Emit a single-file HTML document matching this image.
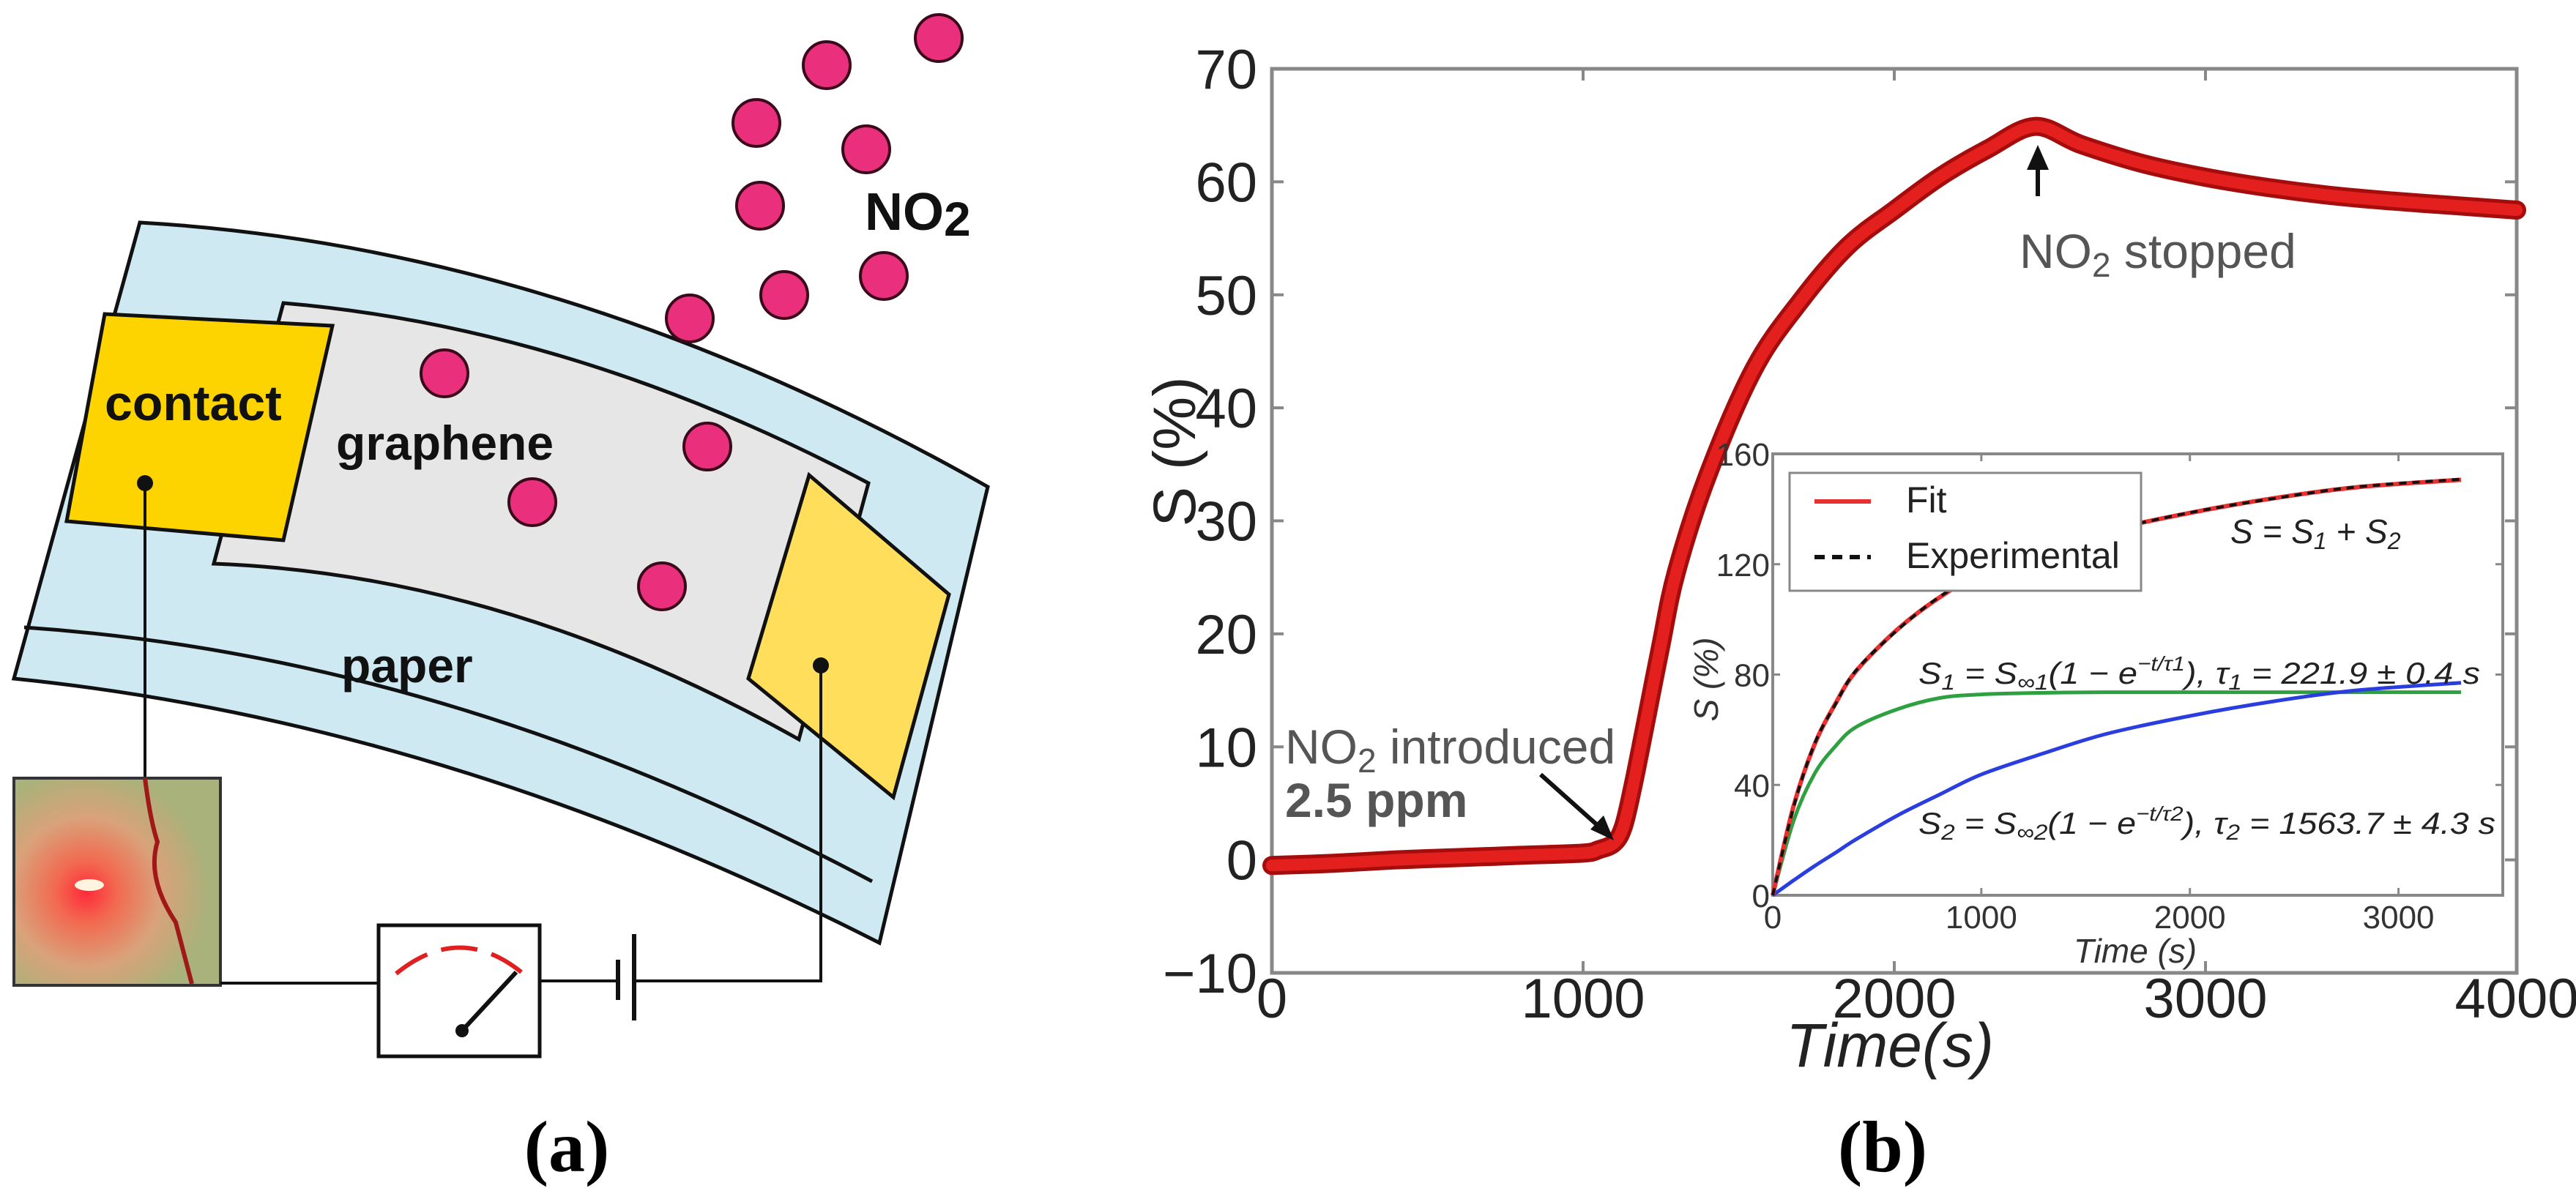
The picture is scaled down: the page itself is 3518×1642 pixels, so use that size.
<!DOCTYPE html>
<html><head><meta charset="utf-8"><style>
html,body{margin:0;padding:0;background:#fff}
svg{display:block}
text{font-family:"Liberation Sans",sans-serif}
</style></head><body>
<svg id="fig" width="3518" height="1642" viewBox="0 0 3518 1642" xmlns="http://www.w3.org/2000/svg">
<defs>
<radialGradient id="glow" cx="0.35" cy="0.55" r="0.6">
<stop offset="0" stop-color="#ff2a3a"/><stop offset="0.25" stop-color="#f26a50"/><stop offset="0.6" stop-color="#d9a27a"/><stop offset="1" stop-color="#a8b27a"/>
</radialGradient>
</defs>
<g>
<path d="M191,304 Q770,337 1349,665 L1201,1288 Q609,987 19,927 Z" fill="#cfe9f2" stroke="#111" stroke-width="5"/>
<path d="M33,857 Q612,896 1191,1204" fill="none" stroke="#111" stroke-width="5"/>
<path d="M387,414 Q786,448 1186,660 L1091,1010 Q691,785 292,770 Z" fill="#e6e6e6" stroke="#111" stroke-width="5"/>
<polygon points="143,429 454,445 387,738 91,712" fill="#fdd400" stroke="#111" stroke-width="5"/>
<polygon points="1105,649 1296,812 1220,1089 1022,927" fill="#fede5a" stroke="#111" stroke-width="5"/>
<text x="143" y="574" font-size="68" font-weight="bold" fill="#111">contact</text>
<text x="459" y="628" font-size="66" font-weight="bold" fill="#111">graphene</text>
<text x="466" y="932" font-size="66" font-weight="bold" fill="#111">paper</text>
<text x="1181" y="314" font-size="72" font-weight="bold" fill="#111">NO<tspan font-size="66" dy="8">2</tspan></text>
<g id="dots"></g>
<line x1="198" y1="660" x2="198" y2="1063" stroke="#111" stroke-width="4"/>
<circle cx="198" cy="660" r="11" fill="#111"/>
<circle cx="1121" cy="909" r="11" fill="#111"/>
<rect x="19" y="1063" width="282" height="283" fill="url(#glow)" stroke="#333" stroke-width="4"/>
<path d="M198,1063 Q205,1120 215,1150 Q200,1200 240,1260 L262,1344" fill="none" stroke="#a01818" stroke-width="6"/>
<ellipse cx="122" cy="1209" rx="20" ry="8" fill="#fff4e0"/>
<polyline points="301,1343 517,1343" fill="none" stroke="#111" stroke-width="4"/>
<rect x="517" y="1264" width="220" height="179" fill="#fff" stroke="#111" stroke-width="5"/>
<path d="M541,1330 Q627,1260 712,1328" fill="none" stroke="#e02020" stroke-width="6" stroke-dasharray="50,20"/>
<line x1="631" y1="1408" x2="705" y2="1328" stroke="#111" stroke-width="6"/>
<circle cx="631" cy="1408" r="9" fill="#111"/>
<line x1="737" y1="1340" x2="842" y2="1340" stroke="#111" stroke-width="4"/>
<line x1="844" y1="1311" x2="844" y2="1366" stroke="#111" stroke-width="6"/>
<line x1="866" y1="1276" x2="866" y2="1394" stroke="#111" stroke-width="6"/>
<polyline points="866,1340 1121,1340 1121,909" fill="none" stroke="#111" stroke-width="4"/>
</g>
<text x="774" y="1600" font-size="100" font-weight="bold" text-anchor="middle" style="font-family:'Liberation Serif',serif">(a)</text>
<g id="main"></g>
<text x="2571" y="1600" font-size="100" font-weight="bold" text-anchor="middle" style="font-family:'Liberation Serif',serif">(b)</text>
</svg>
<script>
const dotPos=[[1282,52],[1129,89],[1033,168],[1183,204],[1038,281],[1207,377],[1071,403],[942,435],[607,510],[966,610],[727,686],[904,801]];
const NS="http://www.w3.org/2000/svg";
function mk(tag,attrs,parent){const e=document.createElementNS(NS,tag);for(const k in attrs)e.setAttribute(k,attrs[k]);parent.appendChild(e);return e;}
const dg=document.getElementById('dots');
dotPos.forEach(p=>{const c=mk('circle',{cx:p[0],cy:p[1],r:32,fill:'#ea2f7c',stroke:'#3a0a1a','stroke-width':4},dg);

});

// ---- main chart data ----
const mainTime=[0,200,400,600,800,1000,1050,1100,1130,1160,1200,1250,1300,1400,1550,1700,1850,2000,2150,2300,2452,2600,2800,3000,3200,3400,3600,3800,4000];
const mainS=[-0.5,-0.3,0,0.2,0.4,0.6,0.9,1.5,3,6.5,12,19,25.5,34,43.5,49.5,54.3,57.5,60.5,62.9,64.9,63.3,61.6,60.4,59.5,58.8,58.3,57.9,57.5];
const mainXTicks=[0,1000,2000,3000,4000];
const mainYTicks=[-10,0,10,20,30,40,50,60,70];
// ---- inset data ----
const insetTime=[0,100,200,300,400,600,800,1000,1300,1600,2000,2400,2800,3300];
const insetFit=[0,32.4,54.6,69.4,81.3,96.5,108,116.6,124.9,132.1,138.6,143.9,147.9,150.6];
const insetExp=[0,32,54.8,69.2,81.5,96.3,108.2,116.5,125,132,138.7,143.8,148,150.8];
const insetS1=[0,27,44,54,61,67.5,71.5,72.8,73.4,73.6,73.6,73.6,73.6,73.6];
const insetS2=[0,5.4,10.6,15.4,20.3,29,36.5,43.8,51.5,58.5,65,70.3,74.3,77];
const insetXTicks=[0,1000,2000,3000];
const insetYTicks=[0,40,80,120,160];

const g=document.getElementById('main');
const L=1737,R=3437,T=94,B=1329;
const xm=t=>L+t/4000*(R-L);
const ym=v=>T+(70-v)/80*(B-T);
function path(xs,ys,fx,fy){
 const P=xs.map((x,i)=>[fx(x),fy(ys[i])]);
 let d='M'+P[0][0].toFixed(1)+','+P[0][1].toFixed(1);
 for(let i=0;i<P.length-1;i++){
  const p0=P[Math.max(0,i-1)],p1=P[i],p2=P[i+1],p3=P[Math.min(P.length-1,i+2)];
  const c1=[p1[0]+(p2[0]-p0[0])/6,p1[1]+(p2[1]-p0[1])/6];
  const c2=[p2[0]-(p3[0]-p1[0])/6,p2[1]-(p3[1]-p1[1])/6];
  d+=' C'+c1[0].toFixed(1)+','+c1[1].toFixed(1)+' '+c2[0].toFixed(1)+','+c2[1].toFixed(1)+' '+p2[0].toFixed(1)+','+p2[1].toFixed(1);
 }
 return d;
}

const frame=mk('rect',{x:L,y:T,width:R-L,height:B-T,fill:'none',stroke:'#888','stroke-width':5},g);


mainYTicks.forEach(v=>{
 const t=mk('text',{x:1717,y:ym(v)+27,'font-size':76,'text-anchor':'end',fill:'#222'},g);t.textContent=v<0?'\u2212'+Math.abs(v):String(v);
 
 
 [[L,L+16],[R,R-16]].forEach(a=>{const l=mk('line',{x1:a[0],x2:a[1],y1:ym(v),y2:ym(v),stroke:'#888','stroke-width':4},g);
 
 });
});
mainXTicks.forEach(v=>{
 const t=mk('text',{x:xm(v),y:1390,'font-size':76,'text-anchor':'middle',fill:'#222'},g);t.textContent=String(v);
 
 
 [[B,B-16],[T,T+16]].forEach(a=>{const l=mk('line',{x1:xm(v),x2:xm(v),y1:a[0],y2:a[1],stroke:'#888','stroke-width':4},g);
 
 });
});
const xl=mk('text',{x:2581,y:1457,'font-size':84,'text-anchor':'middle','font-style':'italic',fill:'#222'},g);xl.textContent='Time(s)';


const yl=mk('text',{x:0,y:0,'font-size':82,'text-anchor':'middle',fill:'#222',transform:'translate(1632,617) rotate(-90)'},g);yl.textContent='S (%)';



const d=path(mainTime,mainS,xm,ym);
const c1=mk('path',{d:d,fill:'none',stroke:'#a50d0d','stroke-width':26,'stroke-linejoin':'round','stroke-linecap':'round'},g);


const c2=mk('path',{d:d,fill:'none',stroke:'#e4201e','stroke-width':16,'stroke-linejoin':'round','stroke-linecap':'round'},g);



const a1=mk('text',{x:2758,y:366,'font-size':66,fill:'#555'},g);a1.innerHTML='NO<tspan font-size="46" dy="12">2</tspan><tspan dy="-12"> stopped</tspan>';


const ar1=mk('line',{x1:2783,y1:268,x2:2783,y2:215,stroke:'#111','stroke-width':6},g);


const ah1=mk('polygon',{points:'2783,198 2768,232 2798,232',fill:'#111'},g);


const a2=mk('text',{x:1755,y:1043,'font-size':66,fill:'#555'},g);a2.innerHTML='NO<tspan font-size="46" dy="12">2</tspan><tspan dy="-12"> introduced</tspan>';


const a3=mk('text',{x:1755,y:1116,'font-size':66,'font-weight':'bold',fill:'#555'},g);a3.textContent='2.5 ppm';


const ar2=mk('line',{x1:2104,y1:1058,x2:2188,y2:1133,stroke:'#111','stroke-width':6},g);


const ah2=mk('polygon',{points:'2204,1148 2172,1133 2190,1114',fill:'#111'},g);



const iL=2421,iR=3418,iT=620,iB=1223;
const xi=t=>iL+t/3500*(iR-iL);
const yi=v=>iB-v/160*(iB-iT);
const ibg=mk('rect',{x:iL,y:iT,width:iR-iL,height:iB-iT,fill:'#fff',stroke:'#888','stroke-width':4},g);


insetYTicks.forEach(v=>{
 const t=mk('text',{x:iL-4,y:yi(v)+16,'font-size':44,'text-anchor':'end',fill:'#333'},g);t.textContent=String(v);
 
 
 [[iL,iL+10],[iR,iR-10]].forEach(a=>{const l=mk('line',{x1:a[0],x2:a[1],y1:yi(v),y2:yi(v),stroke:'#888','stroke-width':3},g);
 
 });
});
insetXTicks.forEach(v=>{
 const t=mk('text',{x:xi(v),y:1268,'font-size':44,'text-anchor':'middle',fill:'#333'},g);t.textContent=String(v);
 
 
 [[iB,iB-10],[iT,iT+10]].forEach(a=>{const l=mk('line',{x1:xi(v),x2:xi(v),y1:a[0],y2:a[1],stroke:'#888','stroke-width':3},g);
 
 });
});
const ixl=mk('text',{x:2916,y:1315,'font-size':46,'text-anchor':'middle','font-style':'italic',fill:'#333'},g);ixl.textContent='Time (s)';


const iyl=mk('text',{x:0,y:0,'font-size':46,'text-anchor':'middle','font-style':'italic',fill:'#333',transform:'translate(2346,928) rotate(-90)'},g);iyl.textContent='S (%)';



const s1=mk('path',{d:path(insetTime,insetS1,xi,yi),fill:'none',stroke:'#2ea040','stroke-width':5},g);


const s2=mk('path',{d:path(insetTime,insetS2,xi,yi),fill:'none',stroke:'#2a3ee0','stroke-width':5},g);


const fit=mk('path',{d:path(insetTime,insetFit,xi,yi),fill:'none',stroke:'#e83030','stroke-width':6},g);


const ex=mk('path',{d:path(insetTime,insetExp,xi,yi),fill:'none',stroke:'#111','stroke-width':4,'stroke-dasharray':'10,8'},g);



const f1=mk('text',{x:3046,y:742,'font-size':46,'font-style':'italic',fill:'#222'},g);f1.innerHTML='S = S<tspan font-size="32" dy="8">1</tspan><tspan dy="-8"> + S</tspan><tspan font-size="32" dy="8">2</tspan>';


const f2=mk('text',{x:2620,y:934,'font-size':42,'font-style':'italic',fill:'#222',textLength:767,lengthAdjust:'spacingAndGlyphs'},g);f2.innerHTML='S<tspan font-size="30" dy="8">1</tspan><tspan dy="-8"> = S</tspan><tspan font-size="30" dy="8">\u221E1</tspan><tspan dy="-8">(1 \u2212 e</tspan><tspan font-size="28" dy="-18">\u2212t/\u03C41</tspan><tspan dy="18">), \u03C4</tspan><tspan font-size="30" dy="8">1</tspan><tspan dy="-8"> = 221.9 \u00B1 0.4 s</tspan>';


const f3=mk('text',{x:2620,y:1139,'font-size':42,'font-style':'italic',fill:'#222',textLength:788,lengthAdjust:'spacingAndGlyphs'},g);f3.innerHTML='S<tspan font-size="30" dy="8">2</tspan><tspan dy="-8"> = S</tspan><tspan font-size="30" dy="8">\u221E2</tspan><tspan dy="-8">(1 \u2212 e</tspan><tspan font-size="28" dy="-18">\u2212t/\u03C42</tspan><tspan dy="18">), \u03C4</tspan><tspan font-size="30" dy="8">2</tspan><tspan dy="-8"> = 1563.7 \u00B1 4.3 s</tspan>';



const lg=mk('rect',{x:2444,y:646,width:480,height:161,fill:'#fff',stroke:'#888','stroke-width':3},g);


const ll1=mk('line',{x1:2478,x2:2555,y1:685,y2:685,stroke:'#e83030','stroke-width':6},g);


const lt1=mk('text',{x:2603,y:700,'font-size':50,fill:'#222'},g);lt1.textContent='Fit';


const ll2=mk('line',{x1:2478,x2:2555,y1:761,y2:761,stroke:'#111','stroke-width':6,'stroke-dasharray':'14,10'},g);


const lt2=mk('text',{x:2603,y:776,'font-size':50,fill:'#222'},g);lt2.textContent='Experimental';


</script>
</body></html>
